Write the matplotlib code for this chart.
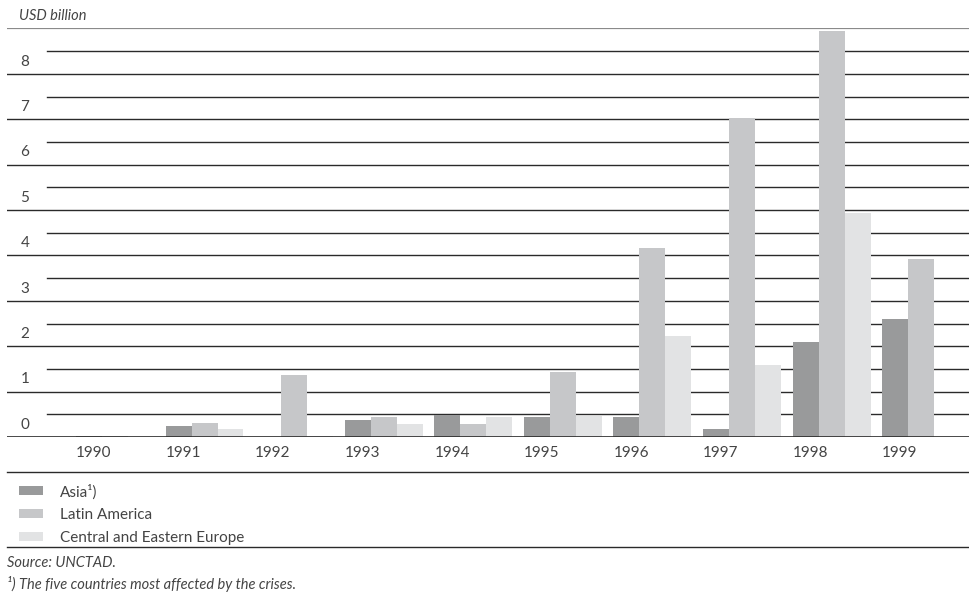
import matplotlib
matplotlib.use("Agg")
import matplotlib.pyplot as plt
from matplotlib.lines import Line2D
from matplotlib.patches import Patch
import numpy as np

plt.rcParams['font.family'] = ['Lato', 'DejaVu Sans']

years = ["1990", "1991", "1992", "1993", "1994", "1995", "1996", "1997", "1998", "1999"]
asia = [0.02, 0.24, 0.0, 0.37, 0.48, 0.44, 0.44, 0.18, 2.10, 2.61]
latin_america = [0.02, 0.31, 1.37, 0.44, 0.29, 1.43, 4.17, 7.02, 8.94, 3.92]
ce_europe = [0.01, 0.18, 0.02, 0.29, 0.44, 0.46, 2.23, 1.59, 4.94, 0.0]
series_names = ["Asia\u00b9)", "Latin America", "Central and Eastern Europe"]
colors = ["#999a9b", "#c6c7c9", "#e2e3e4"]
yticks = [0, 1, 2, 3, 4, 5, 6, 7, 8]

txt = "#444444"
line_c = "#2a2a2a"

W, H = 970, 602
fig = plt.figure(figsize=(W / 100, H / 100), dpi=100)
ax = fig.add_axes([7 / W, 1 - 437 / H, 1 - 7 / W, (437 - 28.4) / H])

x = np.arange(len(years))
w = 0.29
for k, (vals, c) in enumerate(zip([asia, latin_america, ce_europe], colors)):
    ax.bar(x + k * w, vals, width=w, align='edge', color=c, zorder=3)

ax.set_xlim(-0.77, 9.98)
ax.set_ylim(0, 9)
ax.axis('off')

# gridlines: full width at integers, short ones at half values
for v in yticks[1:]:
    ax.axhline(v, color=line_c, lw=1.0, zorder=1)
for v in yticks:
    ax.axhline(v + 0.5, xmin=40 / 963, color=line_c, lw=1.0, zorder=1)
ax.axhline(0, color=line_c, lw=1.2, zorder=4)
ax.axhline(9, color="#8a8a8a", lw=1.6, zorder=1)

trans = ax.get_yaxis_transform()
for v in yticks:
    ax.text(0.0187, v + 0.27, str(v), transform=trans, ha='center', va='center',
            fontsize=11, color=txt)

for xi, yr in zip(x, years):
    ax.text(xi, -0.36, yr, ha='left', va='center', fontsize=11, color=txt, clip_on=False)

fig.text(19 / W, 1 - 16 / H, "USD billion", fontsize=10.5, style='italic', color=txt,
         ha='left', va='center')

for yy in [472, 547]:
    fig.add_artist(Line2D([7 / W, 1], [1 - yy / H, 1 - yy / H], color=line_c, lw=1.0))

handles = [Patch(facecolor=c, edgecolor='none') for c in colors]
fig.legend(handles, series_names, loc='upper left', bbox_to_anchor=(19 / W, 1 - 484 / H),
           frameon=False, fontsize=11, handlelength=1.6, handleheight=0.55,
           handletextpad=1.1, labelspacing=0.58, borderaxespad=0, borderpad=0,
           labelcolor=txt)

fig.text(7 / W, 1 - 563 / H, "Source: UNCTAD.", fontsize=10.5, style='italic', color=txt,
         ha='left', va='center')
fig.text(7 / W, 1 - 584 / H, "\u00b9) The five countries most affected by the crises.",
         fontsize=10.5, style='italic', color=txt, ha='left', va='center')

fig.savefig("out.png", dpi=100)
